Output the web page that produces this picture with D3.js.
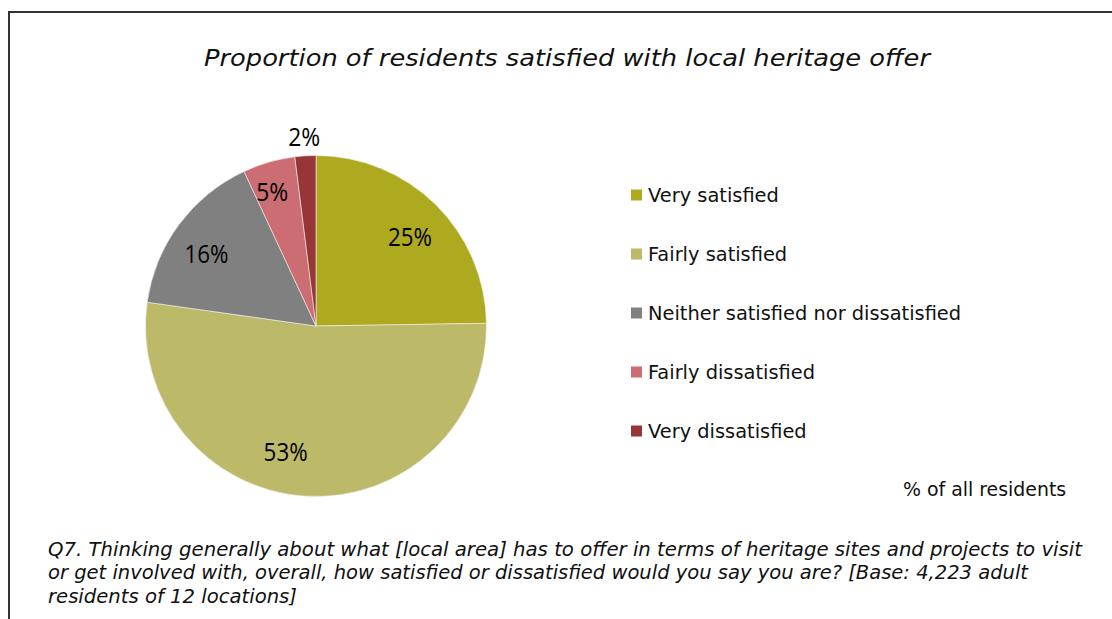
<!DOCTYPE html>
<html>
<head>
<meta charset="utf-8">
<script src="https://cdn.jsdelivr.net/npm/d3@7"></script>
<style>
  html, body { margin: 0; padding: 0; background: #fff; }
  svg { display: block; }
</style>
</head>
<body>
<svg id="chart" width="1112" height="619"></svg>
<script>
// Survey answers and their shares (% of all residents)
const categories = [
  "Very satisfied",
  "Fairly satisfied",
  "Neither satisfied nor dissatisfied",
  "Fairly dissatisfied",
  "Very dissatisfied"
];
const values = [25, 53, 16, 5, 2];
const colors = ["#ADAA1F", "#BCBA68", "#808080", "#CB6D72", "#963636"];

const titleText = "Proportion of residents satisfied with local heritage offer";
const unitText = "% of all residents";
const noteLines = [
  "Q7. Thinking generally about what [local area] has to offer in terms of heritage sites and projects to visit",
  "or get involved with, overall, how satisfied or dissatisfied would you say you are? [Base: 4,223 adult",
  "residents of 12 locations]"
];
const noteWidths = [1034, 980, 249];

const svg = d3.select("#chart");
const font = "'DejaVu Sans', sans-serif";

// Frame: top and left rules
svg.append("line").attr("x1", 9).attr("y1", 12).attr("x2", 1112).attr("y2", 12)
  .attr("stroke", "#333").attr("stroke-width", 2);
svg.append("line").attr("x1", 9).attr("y1", 11).attr("x2", 9).attr("y2", 619)
  .attr("stroke", "#333").attr("stroke-width", 2);

// Title
svg.append("text")
  .attr("x", 567).attr("y", 66)
  .attr("text-anchor", "middle")
  .attr("font-family", font)
  .attr("font-style", "italic")
  .attr("font-size", 23.5)
  .attr("fill", "#111")
  .attr("textLength", 726)
  .attr("lengthAdjust", "spacingAndGlyphs")
  .text(titleText);

// Pie
const cx = 316, cy = 326, r = 170.5;
const pie = d3.pie().sort(null).value(d => d.value);
const arc = d3.arc().innerRadius(0).outerRadius(r);
const data = categories.map((c, i) => ({ name: c, value: values[i], color: colors[i] }));
const arcs = pie(data);

const g = svg.append("g").attr("transform", `translate(${cx},${cy})`);
g.selectAll("path")
  .data(arcs)
  .join("path")
  .attr("d", arc)
  .attr("fill", d => d.data.color)
  .attr("stroke", "#f4f0f0")
  .attr("stroke-width", 0.6);

// Value labels: radial distance (fraction of radius) and angular nudge (degrees) per slice
const labelRadius = [0.76, 0.76, 0.77, 0.83, 1.11];
const labelNudge = [2, 10, -3, -2, 0];
g.selectAll("text.val")
  .data(arcs)
  .join("text")
  .attr("class", "val")
  .attr("transform", (d, i) => {
    const a = (d.startAngle + d.endAngle) / 2 + labelNudge[i] * Math.PI / 180;
    const rr = r * labelRadius[i];
    return `translate(${Math.sin(a) * rr},${-Math.cos(a) * rr})`;
  })
  .attr("text-anchor", "middle")
  .attr("dy", "0.36em")
  .attr("font-family", "'Open Sans', sans-serif")
  .attr("font-size", 26)
  .attr("fill", "#000")
  .attr("textLength", d => d.data.value >= 10 ? 44 : 32)
  .attr("lengthAdjust", "spacingAndGlyphs")
  .text(d => d.data.value + "%");

// Legend
const legendY = d3.scalePoint().domain(categories).range([195, 431]);
const legend = svg.append("g");
legend.selectAll("rect")
  .data(data)
  .join("rect")
  .attr("x", 631).attr("y", d => legendY(d.name) - 5.5)
  .attr("width", 11).attr("height", 11)
  .attr("fill", d => d.color);
legend.selectAll("text")
  .data(data)
  .join("text")
  .attr("x", 648).attr("y", d => legendY(d.name))
  .attr("dy", "0.36em")
  .attr("font-family", font)
  .attr("font-size", 19.4)
  .attr("fill", "#111")
  .text(d => d.name);

// Unit note
svg.append("text")
  .attr("x", 903).attr("y", 489).attr("dy", "0.36em")
  .attr("font-family", font)
  .attr("font-size", 18.9)
  .attr("fill", "#111")
  .text(unitText);

// Question footnote
svg.append("g").selectAll("text")
  .data(noteLines)
  .join("text")
  .attr("x", 48)
  .attr("y", (d, i) => 549 + i * 23.5)
  .attr("dy", "0.36em")
  .attr("font-family", font)
  .attr("font-style", "italic")
  .attr("font-size", 19.2)
  .attr("fill", "#111")
  .attr("textLength", (d, i) => noteWidths[i])
  .attr("lengthAdjust", "spacingAndGlyphs")
  .text(d => d);
</script>
</body>
</html>
